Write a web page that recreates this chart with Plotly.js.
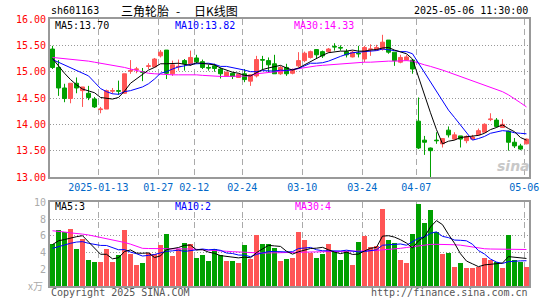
<!DOCTYPE html>
<html><head><meta charset="utf-8">
<script src="https://cdn.plot.ly/plotly-3.0.1.min.js"></script>
<style>html,body{margin:0;padding:0;background:#fff}#chart{width:545px;height:300px}</style>
</head><body><div id="chart"></div>
<script>
const dates = ['2024-12-31','2025-01-02','2025-01-03','2025-01-06','2025-01-07','2025-01-08','2025-01-09','2025-01-10',
'2025-01-13','2025-01-14','2025-01-15','2025-01-16','2025-01-17','2025-01-20','2025-01-21','2025-01-22','2025-01-23','2025-01-24',
'2025-01-27','2025-02-05','2025-02-06','2025-02-07','2025-02-10','2025-02-11','2025-02-12','2025-02-13','2025-02-14',
'2025-02-17','2025-02-18','2025-02-19','2025-02-20','2025-02-21','2025-02-24','2025-02-25','2025-02-26','2025-02-27','2025-02-28',
'2025-03-03','2025-03-04','2025-03-05','2025-03-06','2025-03-07','2025-03-10','2025-03-11','2025-03-12','2025-03-13','2025-03-14',
'2025-03-17','2025-03-18','2025-03-19','2025-03-20','2025-03-21','2025-03-24','2025-03-25','2025-03-26','2025-03-27','2025-03-28',
'2025-03-31','2025-04-01','2025-04-02','2025-04-03','2025-04-07','2025-04-08','2025-04-09','2025-04-10','2025-04-11',
'2025-04-14','2025-04-15','2025-04-16','2025-04-17','2025-04-18','2025-04-21','2025-04-22','2025-04-23','2025-04-24','2025-04-25',
'2025-04-28','2025-04-29','2025-04-30','2025-05-06'];

const openP = [15.43,15.08,14.69,14.49,14.78,14.64,14.59,14.48,14.28,14.29,14.63,14.64,14.59,15.01,15.04,15.00,15.10,15.09,15.30,15.41,
14.96,15.09,15.21,15.15,15.26,15.19,15.08,15.11,15.05,14.92,14.97,14.89,14.96,14.82,14.92,15.23,15.21,15.15,14.96,15.08,
14.97,15.11,15.21,15.27,15.42,15.38,15.38,15.48,15.46,15.38,15.28,15.35,15.24,15.42,15.41,15.43,15.60,15.37,15.18,15.22,
15.22,14.06,13.70,13.55,13.70,13.63,13.89,13.72,13.78,13.69,13.72,13.80,13.85,14.09,14.08,13.94,13.87,13.66,13.59,13.63];
const highP = [15.49,15.22,14.77,14.78,14.89,14.71,14.73,14.52,14.33,14.66,14.69,14.83,14.96,15.22,15.09,15.07,15.16,15.26,15.41,15.41,
15.21,15.23,15.24,15.40,15.32,15.23,15.13,15.15,15.08,15.00,14.98,14.96,15.05,14.95,15.30,15.30,15.27,15.32,15.11,15.15,
15.06,15.37,15.38,15.40,15.43,15.40,15.45,15.54,15.50,15.43,15.40,15.49,15.49,15.52,15.51,15.70,15.60,15.37,15.32,15.32,
15.24,14.51,13.78,13.56,13.85,13.74,13.96,13.85,13.78,13.79,13.80,13.92,14.02,14.21,14.12,14.10,13.88,13.74,13.63,13.73];
const lowP = [15.05,14.54,14.42,14.40,14.59,14.33,14.46,14.31,14.21,14.29,14.58,14.56,14.58,14.96,14.97,14.82,15.05,15.08,15.27,14.86,
14.92,15.02,15.02,15.11,15.15,15.05,15.02,15.00,14.87,14.91,14.86,14.88,14.80,14.73,14.89,15.03,14.99,14.96,14.94,14.92,
14.95,15.08,15.18,15.25,15.24,15.26,15.36,15.40,15.40,15.27,15.27,15.27,15.18,15.30,15.40,15.40,15.34,15.11,15.16,15.21,
14.96,13.53,13.42,12.99,13.63,13.56,13.75,13.70,13.56,13.64,13.71,13.78,13.84,14.06,13.94,13.93,13.50,13.55,13.51,13.62];
const closeP = [15.08,14.69,14.49,14.78,14.69,14.71,14.51,14.33,14.29,14.64,14.64,14.63,14.96,15.02,15.05,14.99,15.11,15.24,15.37,14.97,
15.13,15.10,15.15,15.27,15.19,15.08,15.07,15.06,14.96,14.99,14.91,14.95,14.85,14.94,15.23,15.22,15.13,14.96,15.08,14.96,
15.03,15.21,15.35,15.38,15.32,15.30,15.43,15.47,15.45,15.32,15.37,15.34,15.46,15.43,15.46,15.56,15.37,15.21,15.27,15.28,
15.05,13.55,13.66,13.50,13.69,13.73,13.80,13.80,13.72,13.77,13.76,13.88,14.00,14.10,13.96,14.00,13.66,13.59,13.53,13.72];
// up/down flag per candle as drawn (1 = red, 0 = green); dojis read by colour
const upDay = [0,0,0,1,0,1,0,0,1,1,1,0,1,1,1,0,1,1,1,0,
1,1,0,1,0,0,0,0,0,1,0,1,0,1,1,0,0,0,1,0,
1,1,1,1,0,0,1,0,0,0,1,0,1,1,1,1,0,0,1,1,
0,0,0,0,0,1,0,1,0,1,1,1,1,1,0,1,0,0,0,1];

const ma5 = [15.25,15.10,14.97,14.85,14.75,14.67,14.64,14.60,14.51,14.49,14.48,14.51,14.63,14.78,14.86,14.94,15.03,15.08,15.15,15.15,
15.16,15.16,15.14,15.12,15.17,15.16,15.15,15.13,15.07,15.03,14.99,14.97,14.93,14.92,14.98,15.04,15.07,15.10,15.12,15.07,
15.03,15.07,15.13,15.19,15.26,15.31,15.36,15.38,15.39,15.39,15.41,15.39,15.39,15.41,15.42,15.45,15.46,15.41,15.37,15.34,
15.24,14.89,14.57,14.22,13.90,13.63,13.68,13.70,13.75,13.76,13.77,13.79,13.83,13.90,13.94,13.99,13.92,13.86,13.75,13.70];
const ma10 = [15.23,15.18,15.13,15.08,15.03,14.98,14.92,14.80,14.68,14.62,14.58,14.57,14.62,14.64,14.68,14.71,14.77,14.86,14.97,15.00,
15.05,15.09,15.11,15.14,15.15,15.16,15.16,15.14,15.10,15.10,15.08,15.06,15.03,15.00,15.00,15.02,15.02,15.01,15.03,15.02,
15.04,15.06,15.11,15.16,15.16,15.17,15.20,15.25,15.29,15.33,15.36,15.37,15.38,15.39,15.40,15.43,15.42,15.40,15.38,15.38,
15.34,15.16,14.98,14.79,14.61,14.43,14.27,14.13,13.98,13.83,13.70,13.73,13.77,13.83,13.85,13.88,13.87,13.84,13.83,13.82];
const ma30 = [15.27,15.26,15.25,15.24,15.23,15.21,15.20,15.18,15.16,15.15,15.13,15.11,15.08,15.05,15.02,15.00,14.97,14.96,14.95,14.94,
14.94,14.94,14.94,14.95,14.94,14.93,14.92,14.91,14.91,14.91,14.91,14.91,14.91,14.92,14.96,14.97,14.98,15.00,15.01,15.02,
15.04,15.06,15.08,15.10,15.11,15.12,15.13,15.14,15.15,15.16,15.16,15.17,15.18,15.18,15.19,15.19,15.20,15.20,15.21,15.21,
15.20,15.16,15.13,15.10,15.07,15.03,14.99,14.95,14.91,14.87,14.83,14.79,14.75,14.71,14.67,14.62,14.56,14.49,14.41,14.33];

const volume = [5.03,6.67,6.47,6.82,4.44,5.63,3.10,2.90,2.90,4.44,2.90,3.69,6.67,3.85,2.54,2.78,3.97,3.85,4.88,6.23,
3.57,4.48,5.12,5.03,3.33,3.73,3.02,4.40,3.69,2.98,2.98,2.74,4.88,3.25,6.11,5.03,5.03,4.52,2.98,3.17,
3.33,6.47,5.48,3.97,3.33,3.85,5.04,4.05,3.10,4.17,2.50,5.24,5.95,4.64,4.76,9.20,5.48,5.12,3.10,2.74,
6.23,9.80,7.50,9.05,6.47,3.81,3.97,2.26,2.74,2.14,2.14,2.26,3.33,3.10,2.86,2.14,6.11,3.10,2.86,2.26];
const volMa5 = [4.95,5.40,5.55,5.75,5.89,6.01,5.29,4.58,3.79,3.79,3.25,3.37,4.12,4.31,3.93,3.91,3.96,3.40,3.60,4.34,
4.50,4.60,4.86,4.89,4.31,4.34,4.05,3.90,3.63,3.56,3.41,3.36,3.45,3.37,3.99,4.40,4.86,4.79,4.73,4.15,
3.81,4.09,4.29,4.48,4.52,4.62,4.33,4.05,3.87,4.04,3.77,3.81,4.19,4.50,4.62,5.96,6.01,5.84,5.53,5.13,
4.53,5.40,5.87,7.06,7.81,7.33,6.16,5.11,3.85,2.98,2.65,2.31,2.52,2.59,2.74,2.74,3.51,3.46,3.41,3.29];
const volMa10 = [4.50,4.70,4.95,5.10,5.25,5.30,5.10,4.95,4.85,4.84,4.63,4.33,4.35,4.05,3.86,3.58,3.66,3.76,3.96,4.14,
4.20,4.28,4.13,4.25,4.32,4.42,4.32,4.38,4.26,3.94,3.88,3.70,3.68,3.50,3.78,3.91,4.11,4.12,4.05,4.07,
4.10,4.48,4.54,4.61,4.33,4.21,4.21,4.17,4.18,4.28,4.20,4.07,4.12,4.19,4.33,4.87,4.91,5.02,5.02,4.87,
5.25,5.70,5.86,6.30,6.47,5.93,5.78,5.49,5.46,5.40,4.99,4.23,3.82,3.22,2.86,2.69,2.91,2.99,3.00,3.02];
const volMa30 = [6.60,6.55,6.45,6.35,6.30,6.20,6.10,5.95,5.85,5.70,5.50,5.35,5.20,5.00,4.75,4.50,4.48,4.48,4.48,4.48,
4.47,4.46,4.45,4.42,4.38,4.35,4.30,4.25,4.20,4.15,4.10,4.05,4.00,3.97,3.95,3.93,3.95,3.97,3.98,4.00,
4.03,4.07,4.09,4.10,4.12,4.13,4.15,4.17,4.17,4.17,4.17,4.17,4.17,4.20,4.25,4.32,4.36,4.42,4.50,4.60,
4.68,4.80,4.92,4.97,4.98,4.98,4.97,4.93,4.88,4.78,4.65,4.50,4.45,4.42,4.40,4.37,4.36,4.36,4.36,4.36];

const tickDates = ['2025-01-13','2025-01-27','2025-02-12','2025-02-24','2025-03-10','2025-03-24','2025-04-07','2025-05-06'];
const tickLabels = ['2025-01-13','01-27','02-12','02-24','03-10','03-24','04-07','05-06'];
const priceTicks = [13,13.5,14,14.5,15,15.5,16];
const volTicks = [2,4,6,8,10];

const stockCode = 'sh601163';
const titleParts = ['三角轮胎', '-', '日K线图'];
const stamp = '2025-05-06 11:30:00';
const priceLegend = ['MA5:13.70','MA10:13.82','MA30:14.33'];
const volLegend = ['MA5:3','MA10:2','MA30:4'];

// ---- styling / build ----
const RED = '#ff5555', GREEN = '#00a000';
const MONO = 'DejaVu Sans Mono';
const CJK = 'Noto Sans CJK SC';
const idx = dates.map((d, i) => i);
const oAdj = openP.slice(), cAdj = closeP.slice();
for (let i = 0; i < idx.length; i++) {
  if (upDay[i] && cAdj[i] <= oAdj[i]) cAdj[i] = oAdj[i] + 0.008;
  if (!upDay[i] && cAdj[i] >= oAdj[i]) cAdj[i] = oAdj[i] - 0.008;
}
const tickPos = tickDates.map(d => dates.indexOf(d) - 0.37);

const traces = [
  {type:'candlestick', x: idx, open: oAdj, high: highP, low: lowP, close: cAdj, xaxis:'x', yaxis:'y',
   increasing:{line:{color:RED, width:1}, fillcolor:RED},
   decreasing:{line:{color:GREEN, width:1}, fillcolor:GREEN},
   whiskerwidth:0, hoverinfo:'skip', showlegend:false},
  {type:'scatter', mode:'lines', x: idx, y: ma30, line:{color:'#ff00ff', width:1}, xaxis:'x', yaxis:'y', hoverinfo:'skip'},
  {type:'scatter', mode:'lines', x: idx, y: ma10, line:{color:'#0000ff', width:1}, xaxis:'x', yaxis:'y', hoverinfo:'skip'},
  {type:'scatter', mode:'lines', x: idx, y: ma5, line:{color:'#000000', width:1}, xaxis:'x', yaxis:'y', hoverinfo:'skip'},
  {type:'bar', x: idx, y: volume, width:0.8, marker:{color: upDay.map(u => u ? RED : GREEN), line:{width:0}},
   xaxis:'x2', yaxis:'y2', hoverinfo:'skip'},
  {type:'scatter', mode:'lines', x: idx, y: volMa30, line:{color:'#ff00ff', width:1}, xaxis:'x2', yaxis:'y2', hoverinfo:'skip'},
  {type:'scatter', mode:'lines', x: idx, y: volMa10, line:{color:'#0000ff', width:1}, xaxis:'x2', yaxis:'y2', hoverinfo:'skip'},
  {type:'scatter', mode:'lines', x: idx, y: volMa5, line:{color:'#000000', width:1}, xaxis:'x2', yaxis:'y2', hoverinfo:'skip'}
];

const L = 50, R = 529, T = 19, B = 286;
const px = x => (x - L) / (R - L);
const py = y => (B - y) / (B - T);
function ann(text, x, y, color, anchor, size, family) {
  return {text, x: px(x), y: py(y), xref:'paper', yref:'paper', showarrow:false,
    xanchor: anchor, yanchor:'middle', font:{family: family || MONO, size: size || 10, color}};
}

const axisCommon = {showline:true, linecolor:'#999', linewidth:2, mirror:true, zeroline:false, ticks:''};
const layout = {
  width:545, height:300, margin:{l:L, r:545-R, t:T, b:300-B}, paper_bgcolor:'#fff', plot_bgcolor:'#fff',
  showlegend:false, boxgap:0.2, boxgroupgap:0.17, bargap:0,
  xaxis: Object.assign({}, axisCommon, {domain:[0,1], anchor:'y', range:[-0.42, 79.42], type:'linear',
    tickmode:'array', tickvals: tickPos, ticktext: tickLabels, showgrid:true, gridcolor:'#aaaaaa', gridwidth:1.5,
    griddash:'6px,4px', tickfont:{family:MONO, size:10, color:'#0068c8'}, rangeslider:{visible:false}}),
  yaxis: Object.assign({}, axisCommon, {domain:[(B-177)/(B-T), 1], anchor:'x', range:[13,16],
    tickmode:'array', tickvals: priceTicks, ticktext: priceTicks.map(v => v.toFixed(2)),
    showgrid:true, gridcolor:'#999999', gridwidth:1, griddash:'1px,2px',
    tickfont:{family:MONO, size:10, color:'#ff0000'}}),
  xaxis2: Object.assign({}, axisCommon, {domain:[0,1], anchor:'y2', matches:'x', type:'linear',
    tickmode:'array', tickvals: tickPos, showticklabels:false, showgrid:true, gridcolor:'#aaaaaa', gridwidth:1.5,
    griddash:'6px,4px'}),
  yaxis2: Object.assign({}, axisCommon, {domain:[0, (B-202.3)/(B-T)], anchor:'x2', range:[0,10],
    tickmode:'array', tickvals: volTicks, ticktext: volTicks.map(String),
    showgrid:true, gridcolor:'#999999', gridwidth:1, griddash:'1px,2px',
    tickfont:{family:MONO, size:10, color:'#aaaaaa'}}),
  annotations: [
    ann(stockCode, 49, 11, '#000', 'left'),
    ann(titleParts[0], 119, 11, '#000', 'left', 12, CJK),
    ann(titleParts[1], 177.5, 11, '#000', 'center', 12, CJK),
    ann(titleParts[2], 192, 11, '#000', 'left', 12, CJK),
    ann(stamp, 530, 11, '#000', 'right'),
    ann(priceLegend[0], 53, 25, '#000', 'left'),
    ann(priceLegend[1], 173, 25, '#0000ff', 'left'),
    ann(priceLegend[2], 292, 25, '#ff00ff', 'left'),
    ann(volLegend[0], 53, 207, '#000', 'left'),
    ann(volLegend[1], 173, 207, '#0000ff', 'left'),
    ann(volLegend[2], 293, 207, '#ff00ff', 'left'),
    ann('x万', 45, 285, '#aaaaaa', 'right', 10, CJK),
    ann('Copyright 2025 SINA.COM', 49, 292.5, '#555', 'left'),
    ann('http://finance.sina.com.cn', 530, 292.5, '#555', 'right'),
    ann('<b><i>sina</i></b>', 513, 166, '#c8c8c8', 'center', 14, 'DejaVu Sans')
  ]
};
Plotly.newPlot('chart', traces, layout, {staticPlot:true, displayModeBar:false});
</script></body></html>
